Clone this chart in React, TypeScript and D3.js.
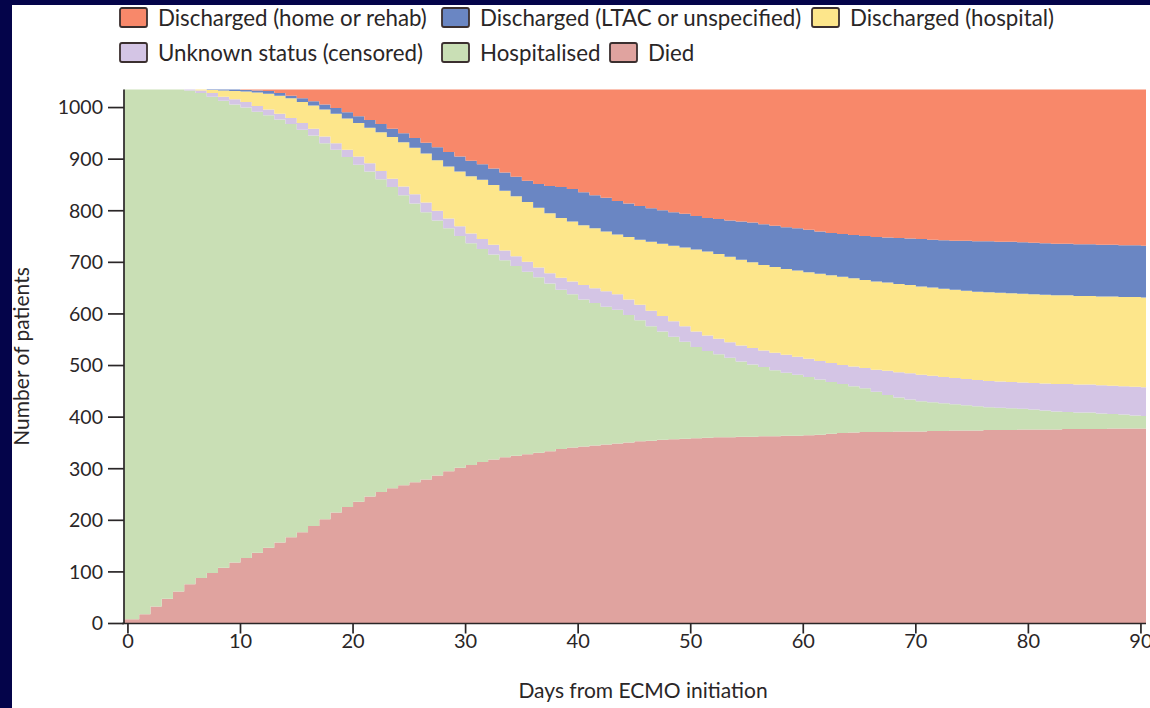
import React from "react";
import * as d3 from "d3";

// Patient status by day after ECMO initiation (n = 1035)
const TOTAL_PATIENTS = 1035;
const days: number[] = d3.range(0, 91);

const died = [
  8, 18, 33, 48, 62, 76, 88, 98, 108, 118,
  127, 137, 147, 157, 167, 177, 189, 202, 215, 226,
  236, 246, 255, 262, 268, 274, 279, 287, 295, 302,
  307, 313, 318, 322, 325, 328, 331, 334, 338, 341,
  343, 345, 347, 349, 351, 353, 354, 356, 357, 358,
  359, 360, 361, 361, 362, 362, 363, 363, 364, 364,
  365, 366, 368, 369, 370, 371, 371, 371, 372, 372,
  372, 373, 373, 374, 374, 374, 375, 375, 375, 376,
  376, 376, 376, 377, 377, 377, 377, 378, 378, 378, 378,
];

const hospitalised = [
  1027, 1017, 1002, 987, 973, 957, 940, 923, 905, 888,
  873, 855, 838, 820, 801, 780, 757, 729, 703, 678,
  653, 630, 606, 584, 562, 540, 518, 494, 471, 449,
  430, 413, 397, 382, 368, 354, 340, 325, 309, 297,
  285, 276, 267, 259, 247, 235, 222, 210, 199, 188,
  177, 168, 161, 154, 146, 140, 134, 128, 122, 118,
  113, 107, 100, 95, 90, 85, 78, 72, 66, 62,
  59, 56, 54, 51, 49, 47, 44, 43, 42, 40,
  39, 37, 35, 33, 32, 32, 30, 28, 27, 25, 24,
];

const unknownStatus = [
  0, 0, 0, 0, 0, 2, 5, 7, 8, 10,
  11, 11, 11, 11, 12, 13, 13, 13, 13, 14,
  16, 16, 16, 16, 17, 18, 19, 19, 19, 19,
  19, 19, 19, 19, 19, 19, 19, 20, 23, 25,
  28, 29, 30, 30, 30, 30, 30, 30, 30, 30,
  30, 30, 30, 30, 31, 32, 32, 34, 35, 35,
  35, 36, 37, 37, 38, 39, 43, 47, 49, 51,
  51, 51, 51, 51, 51, 51, 51, 51, 51, 51,
  51, 52, 53, 54, 54, 54, 55, 55, 55, 56, 56,
];

const dischargedHospital = [
  0, 0, 0, 0, 0, 0, 2, 6, 12, 16,
  20, 26, 31, 35, 38, 41, 45, 52, 57, 61,
  65, 69, 75, 81, 86, 90, 95, 98, 101, 106,
  111, 115, 116, 116, 116, 116, 116, 116, 116, 116,
  116, 116, 116, 116, 121, 126, 134, 140, 146, 153,
  159, 163, 164, 166, 166, 166, 166, 166, 166, 167,
  168, 169, 170, 171, 171, 171, 171, 171, 171, 171,
  171, 171, 171, 171, 171, 171, 172, 172, 172, 172,
  172, 172, 172, 172, 172, 172, 172, 173, 173, 174, 174,
];

const dischargedLtac = [
  0, 0, 0, 0, 0, 0, 0, 1, 2, 3,
  3, 4, 5, 5, 5, 7, 8, 10, 11, 12,
  13, 15, 16, 16, 17, 19, 21, 25, 28, 29,
  30, 30, 32, 35, 38, 41, 46, 53, 60, 63,
  64, 64, 65, 65, 65, 65, 65, 65, 65, 65,
  65, 65, 68, 70, 74, 77, 79, 80, 81, 82,
  82, 82, 82, 83, 84, 85, 86, 87, 89, 90,
  92, 93, 94, 95, 97, 98, 99, 99, 100, 100,
  100, 100, 100, 100, 100, 100, 100, 100, 100, 100, 100,
];

const dischargedHome = [
  0, 0, 0, 0, 0, 0, 0, 0, 0, 0,
  1, 2, 3, 7, 12, 17, 23, 29, 36, 44,
  52, 59, 67, 76, 85, 94, 103, 112, 121, 130,
  138, 145, 153, 161, 169, 177, 183, 187, 189, 193,
  199, 205, 210, 216, 221, 226, 230, 234, 238, 241,
  245, 249, 251, 254, 256, 258, 261, 264, 267, 269,
  272, 275, 278, 280, 282, 284, 286, 287, 288, 289,
  290, 291, 292, 293, 293, 294, 294, 295, 295, 296,
  297, 298, 299, 299, 300, 300, 301, 301, 302, 302, 303,
];

// Stacking order, bottom to top
const statusKeys = ["died", "hospitalised", "unknown", "dischHospital", "dischLtac", "dischHome"];
const statusSeries: Record<string, number[]> = {
  died,
  hospitalised,
  unknown: unknownStatus,
  dischHospital: dischargedHospital,
  dischLtac: dischargedLtac,
  dischHome: dischargedHome,
};
const statusColors: Record<string, string> = {
  dischHome: "#f8886a",
  dischLtac: "#6a86c3",
  dischHospital: "#fde68b",
  unknown: "#d4c5e5",
  hospitalised: "#c9dfb5",
  died: "#e0a39f",
};
const statusLabels: Record<string, string> = {
  dischHome: "Discharged (home or rehab)",
  dischLtac: "Discharged (LTAC or unspecified)",
  dischHospital: "Discharged (hospital)",
  unknown: "Unknown status (censored)",
  hospitalised: "Hospitalised",
  died: "Died",
};

// Legend rows as laid out above the plot (swatch left edges)
const legendRows = [
  ["dischHome", "dischLtac", "dischHospital"],
  ["unknown", "hospitalised", "died"],
];
const legendColumnX = [
  [120, 442, 812],
  [120, 442, 610],
];
const legendRowY = [17.5, 52.5];

const xTicks = [0, 10, 20, 30, 40, 50, 60, 70, 80, 90];
const yTicks = [0, 100, 200, 300, 400, 500, 600, 700, 800, 900, 1000];

const FONT = "Lato, 'Open Sans', sans-serif";
const INK = "#2a2627";

export default function App() {
  const width = 1150;
  const height = 708;

  const x = d3.scaleLinear().domain([-0.35, 90.45]).range([124, 1146]);
  const y = d3.scaleLinear().domain([0, TOTAL_PATIENTS]).range([623.5, 89.5]);

  const rows = days.map((day, i) => {
    const row: any = { day };
    statusKeys.forEach((k) => (row[k] = statusSeries[k][i]));
    return row;
  });
  // Last observed day is held to the end of the axis
  const stepRows = [...rows, { ...rows[rows.length - 1], day: x.domain()[1] }];

  const stacked = d3.stack<any>().keys(statusKeys)(stepRows);

  const area = d3
    .area<any>()
    .curve(d3.curveStepAfter)
    .x((p, i) => (i === 0 ? x.range()[0] : x(p.data.day)))
    .y0((p) => y(p[0]))
    .y1((p) => y(p[1]));

  const axisLeft = x.range()[0];
  const axisBottom = y(0);

  return (
    <svg
      width={width}
      height={height}
      style={{ position: "absolute", left: 0, top: 0, display: "block" }}
    >
      <rect x={0} y={0} width={width} height={height} fill="#04044a" />
      <rect x={12} y={5} width={width - 12} height={height - 5} fill="#ffffff" />

      {/* stacked status bands */}
      <g>
        {stacked.map((s) => (
          <path key={s.key} d={area(s) || ""} fill={statusColors[s.key]} />
        ))}
      </g>

      {/* legend */}
      <g fontFamily={FONT} fontSize={22.3} fill={INK}>
        {legendRows.map((row, r) =>
          row.map((key, c) => {
            const lx = legendColumnX[r][c];
            const cy = legendRowY[r];
            return (
              <g key={key}>
                <rect
                  x={lx}
                  y={cy - 9.5}
                  width={27}
                  height={19}
                  rx={2}
                  fill={statusColors[key]}
                  stroke="#3b2f2f"
                  strokeWidth={1.8}
                />
                <text x={lx + 38} y={cy} dy="0.36em">
                  {statusLabels[key]}
                </text>
              </g>
            );
          })
        )}
      </g>

      {/* y axis */}
      <g fontFamily={FONT} fontSize={19.5} fill={INK}>
        <line
          x1={axisLeft}
          x2={axisLeft}
          y1={y(TOTAL_PATIENTS)}
          y2={axisBottom}
          stroke={INK}
          strokeWidth={1.7}
        />
        {yTicks.map((t) => (
          <g key={t} transform={`translate(0,${y(t)})`}>
            <line x1={axisLeft - 16} x2={axisLeft} stroke={INK} strokeWidth={1.7} />
            <text x={axisLeft - 21} dy="0.35em" textAnchor="end">
              {t}
            </text>
          </g>
        ))}
        <text
          transform={`translate(29,${(y(TOTAL_PATIENTS) + axisBottom) / 2}) rotate(-90)`}
          textAnchor="middle"
          fontSize={21}
        >
          Number of patients
        </text>
      </g>

      {/* x axis */}
      <g fontFamily={FONT} fontSize={20} fill={INK}>
        <line
          x1={axisLeft - 2}
          x2={x.range()[1]}
          y1={axisBottom}
          y2={axisBottom}
          stroke={INK}
          strokeWidth={1.7}
        />
        {xTicks.map((t) => (
          <g key={t} transform={`translate(${x(t)},${axisBottom})`}>
            <line y1={0} y2={10} stroke={INK} strokeWidth={1.7} />
            <text y={24.5} textAnchor="middle">
              {t}
            </text>
          </g>
        ))}
        <text x={643} y={698} textAnchor="middle" fontSize={21}>
          Days from ECMO initiation
        </text>
      </g>
    </svg>
  );
}
